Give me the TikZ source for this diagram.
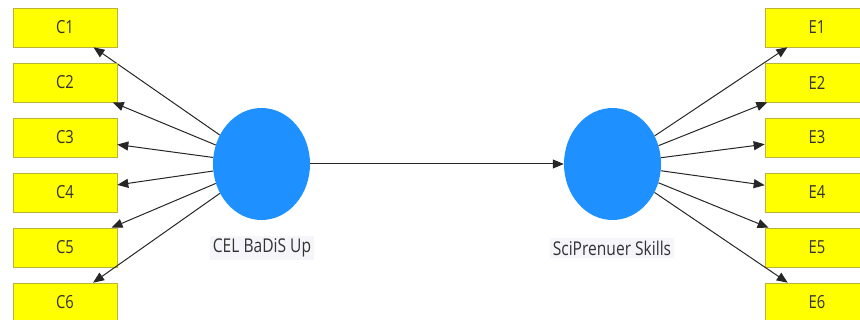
\documentclass[tikz,border=0pt]{standalone}
\usepackage{fontspec}
\setmainfont{Open Sans}
\newfontfamily\narrowfont[FakeStretch=0.82]{Open Sans}
\usetikzlibrary{positioning,arrows.meta,shapes.geometric}
\definecolor{indyellow}{RGB}{255,255,0}
\definecolor{latblue}{RGB}{30,144,255}
\definecolor{lblgray}{RGB}{246,246,250}
\tikzset{
  indbox/.style={draw=yellow!70!black, line width=0.6pt, fill=indyellow,
    minimum width=104pt, minimum height=39pt, inner sep=0pt,
    text=black!80, font=\narrowfont\fontsize{18}{20}\selectfont},
  latent/.style={ellipse, fill=latblue, minimum width=97pt,
    minimum height=112pt, inner sep=0pt},
  lbl/.style={fill=lblgray, text=black!80, inner sep=3pt,
    font=\narrowfont\fontsize{19}{21}\selectfont},
  load/.style={-{Triangle[length=11pt,width=9pt]}, line width=1pt, black!85}
}

\begin{document}
\begin{tikzpicture}[x=1pt,y=-1pt]
\useasboundingbox (0,0) rectangle (860,320);
\clip (0,0) rectangle (860,320);
% latent variables
\node[latent] (cel) at (261.5,164) {};
\node[latent] (sci) at (612.5,164) {};
\node[lbl] (cellbl) at (262,248) {CEL BaDiS Up};
\node[lbl] (scilbl) at (612,248) {SciPrenuer Skills};
% indicators
\foreach \i in {1,...,6} {
  \node[indbox] (c\i) at (65,{27.5+55*(\i-1)}) {C\i};
  \node[indbox] (e\i) at (817,{27.5+55*(\i-1)}) {E\i};
  \draw[load] (cel) -- (c\i);
  \draw[load] (sci) -- (e\i);
}
% path
\draw[load] (cel) -- (sci);
\end{tikzpicture}
\end{document}
